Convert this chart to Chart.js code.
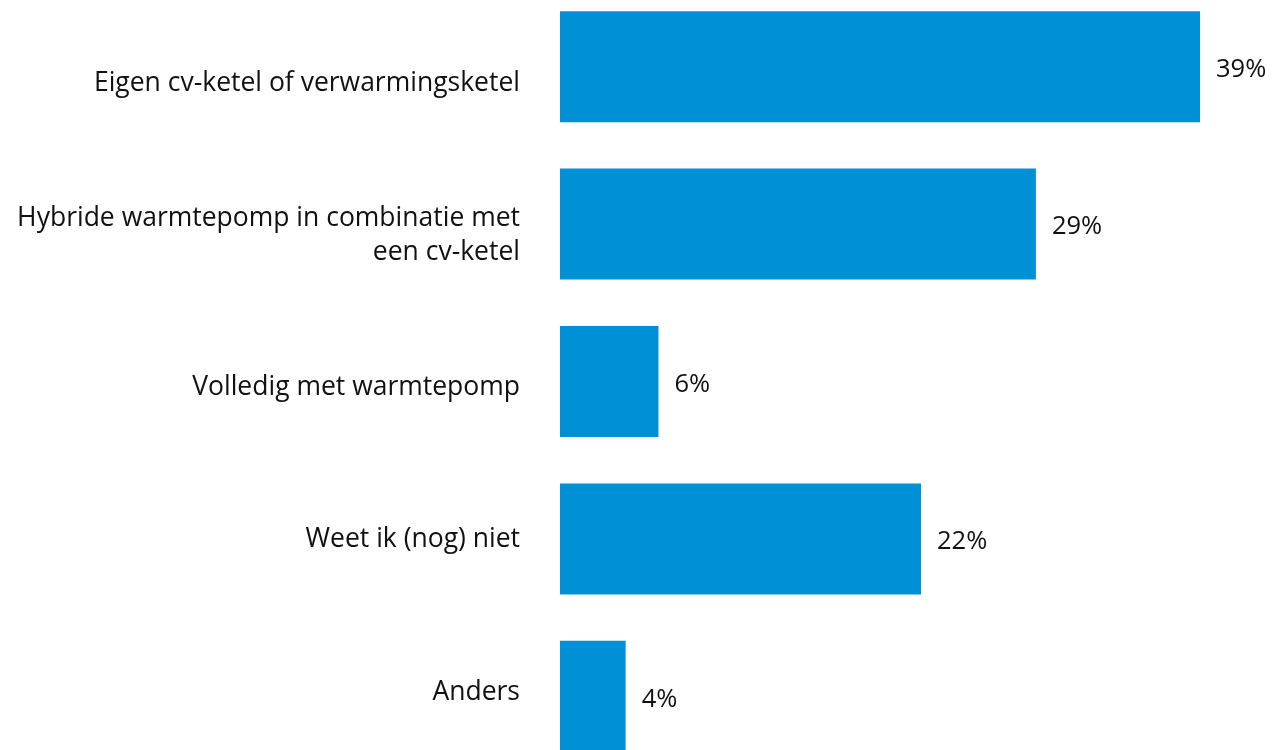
<!DOCTYPE html>
<html>
<head>
<meta charset="utf-8">
<script src="https://cdn.jsdelivr.net/npm/chart.js@4"></script>
<style>
  html, body { margin: 0; padding: 0; background: #fff; overflow: hidden; }
  #wrap { position: absolute; left: 0; top: -12px; width: 1276px; height: 787px; }
</style>
</head>
<body>
<div id="wrap"><canvas id="heatingChart"></canvas></div>
<script>
const categories = [
    'Eigen cv-ketel of verwarmingsketel',
    ['Hybride warmtepomp in combinatie met', 'een cv-ketel'],
    'Volledig met warmtepomp',
    'Weet ik (nog) niet',
    'Anders'
];
const shares = [39, 29, 6, 22, 4];
const barColor = '#0090d6';

const valueLabels = {
    id: 'valueLabels',
    afterDatasetsDraw(chart) {
        const ctx = chart.ctx;
        const meta = chart.getDatasetMeta(0);
        ctx.save();
        ctx.font = '25.5px "Open Sans"';
        ctx.fillStyle = '#111';
        ctx.textAlign = 'left';
        ctx.textBaseline = 'middle';
        meta.data.forEach((bar, i) => {
            ctx.fillText(shares[i] + '%', bar.x + 16, bar.y + 3);
        });
        ctx.restore();
    }
};

// the labels in the picture sit on a slightly tighter rhythm than the bars,
// so they get their own linear axis
const labelMin = -0.624;
const labelMax = 4.544;

const ctx = document.getElementById('heatingChart').getContext('2d');
new Chart(ctx, {
    type: 'bar',
    data: {
        labels: categories,
        datasets: [{
            data: shares,
            backgroundColor: barColor,
            borderWidth: 0,
            barPercentage: 0.705,
            categoryPercentage: 1
        }]
    },
    options: {
        indexAxis: 'y',
        responsive: true,
        maintainAspectRatio: false,
        animation: false,
        layout: { padding: { left: 0, right: 76, top: 0, bottom: 0 } },
        plugins: {
            legend: { display: false },
            tooltip: { enabled: false }
        },
        scales: {
            x: { min: 0, max: 39, display: false },
            y: { display: false },
            labelAxis: {
                type: 'linear',
                position: 'left',
                reverse: true,
                offset: false,
                min: labelMin,
                max: labelMax,
                grid: { display: false, drawTicks: false, offset: false },
                border: { display: false },
                afterBuildTicks: s => {
                    s.ticks = categories.map((c, i) => ({ value: i }));
                    s.min = labelMin;
                    s.max = labelMax;
                },
                afterFit: s => {
                    s.width = 560;
                    s.paddingTop = 0;
                    s.paddingBottom = 0;
                },
                ticks: {
                    padding: 40,
                    color: '#111',
                    font: { family: '"Open Sans"', size: 26.5, lineHeight: 1.26 },
                    callback: v => categories[v]
                }
            }
        }
    },
    plugins: [valueLabels]
});
</script>
</body>
</html>
